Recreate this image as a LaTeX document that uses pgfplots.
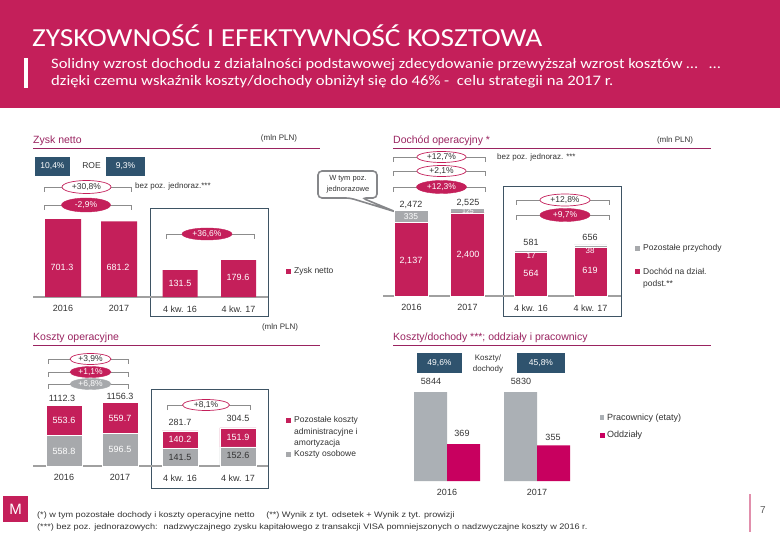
\documentclass[border=0pt]{standalone}
\usepackage{fontspec}
\setmainfont{Liberation Sans}
\newfontfamily\tfont{Carlito}
\usepackage{pgfplots}
\pgfplotsset{compat=1.18}
\usetikzlibrary{shapes.geometric}

\definecolor{mag}{HTML}{C41F5A}
\definecolor{magB}{HTML}{C8005F}
\definecolor{grayB}{HTML}{A7A9AC}
\definecolor{grayP}{HTML}{ABB0B5}
\definecolor{slate}{HTML}{2F536E}
\definecolor{ttl}{HTML}{9A2360}
\definecolor{boxc}{HTML}{3E5464}
\definecolor{brk}{HTML}{8C8C8C}
\definecolor{txt}{HTML}{333333}
\definecolor{basel}{HTML}{A0A0A0}

\newcommand{\fs}[1]{\fontsize{#1}{#1}\selectfont}
\newcommand{\brk}[3]{\draw[brk, line width=0.7pt] (#1,{#3+5}) -- (#1,#3) -- (#2,#3) -- (#2,{#3+5});}

\tikzset{
  ew/.style={ellipse, draw=mag, line width=0.7pt, fill=white, text=txt, inner sep=0pt, font=\fs{8.5}},
  em/.style={ellipse, draw=mag, fill=mag, text=white, inner sep=0pt, font=\fs{8.5}},
  eg/.style={ellipse, draw=grayB, fill=grayB, text=white, inner sep=0pt, font=\fs{8.5}},
  vl/.style={inner sep=0pt, font=\fs{9}, text=txt},
  vw/.style={inner sep=0pt, font=\fs{9}, text=white},
  lg/.style={anchor=west, inner sep=0pt, font=\fs{8.5}, text=txt},
}

\pgfplotsset{barax/.style={scale only axis, anchor=south west, height=90pt,
  ymin=0, xmin=-0.5, xmax=1.5, xtick={0,1}, ytick=\empty,
  axis line style={draw=none}, major tick length=0pt, clip=false,
  xticklabel style={font=\fs{9}, text=txt, yshift=-5pt}}}

\begin{document}
\begin{tikzpicture}
\begin{scope}[x=1pt,y=-1pt]
\path[use as bounding box, fill=white] (0,0) rectangle (780,540);
% header
\fill[mag] (0,0) rectangle (780,108);
\node[anchor=base west, inner sep=0pt, white, font=\tfont\fs{26}] at (32,47) {\scalebox{1.13}[1]{ZYSKOWNOŚĆ I EFEKTYWNOŚĆ KOSZTOWA}};
\fill[white] (24,58) rectangle (28,88);
\node[anchor=base west, inner sep=0pt, white, font=\tfont\fs{14.5}] at (51,69) {\scalebox{1.14}[1]{Solidny wzrost dochodu z działalności podstawowej zdecydowanie przewyższał wzrost kosztów …\hspace{10pt}…}};
\node[anchor=base west, inner sep=0pt, white, font=\tfont\fs{14.5}] at (51,86) {\scalebox{1.15}[1]{dzięki czemu wskaźnik koszty/dochody obniżył się do 46\% - \ celu strategii na 2017 r.}};

% panel titles
\node[anchor=base west, inner sep=0pt, text=ttl, font=\fs{10.5}] at (33,144) {Zysk netto};
\draw[ttl, line width=0.6pt] (33,148) -- (320,148);
\node[anchor=base, inner sep=0pt, text=txt, font=\fs{8}] at (279,141) {(mln PLN)};
\node[anchor=base west, inner sep=0pt, text=ttl, font=\fs{10.5}] at (393,144) {Dochód operacyjny *};
\draw[ttl, line width=0.6pt] (393,148) -- (711,148);
\node[anchor=base, inner sep=0pt, text=txt, font=\fs{8}] at (675,143) {(mln PLN)};
\node[anchor=base west, inner sep=0pt, text=ttl, font=\fs{10.5}] at (33,341) {Koszty operacyjne};
\draw[ttl, line width=0.6pt] (33,345) -- (320,345);
\node[anchor=base, inner sep=0pt, text=txt, font=\fs{8}] at (280,330) {(mln PLN)};
\node[anchor=base west, inner sep=0pt, text=ttl, font=\fs{10.5}] at (393,341) {Koszty/dochody ***; oddziały i pracownicy};
\draw[ttl, line width=0.6pt] (393,345) -- (711,345);

% Q4 boxes
\draw[boxc, line width=0.9pt] (150,208) rectangle (268,316);
\draw[boxc, line width=0.9pt] (503,186) rectangle (621,316);
\draw[boxc, line width=0.9pt] (151,389) rectangle (268,488);

% baselines
\draw[basel, line width=1.4pt] (33,297) -- (268,297);
\draw[basel, line width=1.4pt] (383,296) -- (621,296);
\draw[basel, line width=1.4pt] (33,466) -- (268,466);

% ROE boxes
\fill[slate] (35,157) rectangle (70,176);
\node[inner sep=0pt, white, font=\fs{8.5}] at (52.5,166.5) {10,4\%};
\node[inner sep=0pt, text=txt, font=\fs{8.5}] at (91.5,166) {ROE};
\fill[slate] (106,157) rectangle (145,176);
\node[inner sep=0pt, white, font=\fs{8.5}] at (125.5,166.5) {9,3\%};

% Koszty/dochody boxes
\fill[slate] (417,353) rectangle (462,373);
\node[inner sep=0pt, white, font=\fs{8.5}] at (439.5,363) {49,6\%};
\fill[slate] (517,353) rectangle (565,373);
\node[inner sep=0pt, white, font=\fs{8.5}] at (541,363) {45,8\%};
\node[inner sep=0pt, text=txt, font=\fs{8}] at (488,358) {Koszty/};
\node[inner sep=0pt, text=txt, font=\fs{8}] at (488,369) {dochody};

% brackets: Zysk netto
\brk{44}{131}{187}
\node[ew, minimum width=49pt, minimum height=13pt] at (86.5,187) {+30,8\%};
\node[anchor=west, inner sep=0pt, text=txt, font=\fs{8}] at (135,186) {bez poz. jednoraz.***};
\brk{44}{131}{205}
\node[em, minimum width=49pt, minimum height=14pt] at (86,205) {-2,9\%};
\brk{166}{254}{234}
\node[em, minimum width=50pt, minimum height=12pt] at (207,234) {+36,6\%};

% brackets: Dochod
\brk{393}{485}{157}
\node[ew, minimum width=49pt, minimum height=11pt] at (441.5,157) {+12,7\%};
\node[anchor=west, inner sep=0pt, text=txt, font=\fs{8}] at (497,157) {bez poz. jednoraz. ***};
\brk{393}{485}{171}
\node[ew, minimum width=49pt, minimum height=11pt] at (441.5,171) {+2,1\%};
\brk{393}{485}{187}
\node[em, minimum width=50pt, minimum height=13pt] at (441.5,187) {+12,3\%};
\brk{516}{609}{200}
\node[ew, minimum width=50pt, minimum height=12pt] at (565,200) {+12,8\%};
\brk{516}{609}{215}
\node[em, minimum width=50pt, minimum height=13pt] at (565,215) {+9,7\%};

% brackets: Koszty
\brk{48}{128}{359}
\node[ew, minimum width=41pt, minimum height=11pt] at (90.5,359) {+3,9\%};
\brk{48}{128}{372}
\node[em, minimum width=41pt, minimum height=11pt] at (90.5,372) {+1,1\%};
\brk{48}{128}{384}
\node[eg, minimum width=41pt, minimum height=11pt] at (90.5,384) {+6,8\%};
\brk{167}{250}{405}
\node[ew, minimum width=47pt, minimum height=11pt] at (206,405) {+8,1\%};

% callout
\draw[grayB!80!black, line width=1.6pt, fill=white, rounded corners=4pt]
  (318,171) -- (377,171) -- (377,198) -- (362,198) -- (396,212) -- (350,198) -- (318,198) -- cycle;
\node[inner sep=0pt, text=txt, font=\fs{7.5}] at (348,179) {W tym poz.};
\node[inner sep=0pt, text=txt, font=\fs{7.5}] at (348,190) {jednorazowe};
\end{scope}

% ===== Zysk netto =====
\begin{axis}[barax, ybar, at={(35pt,-297pt)}, width=112pt, ymax=811, bar width=36pt, xticklabels={2016,2017}]
\addplot[fill=mag, draw=none] coordinates {(0,701.3) (1,681.2)};
\end{axis}
\begin{axis}[barax, ybar, at={(150.75pt,-297pt)}, width=117pt, ymax=439, bar width=35pt, xticklabels={4 kw. 16,4 kw. 17}]
\addplot[fill=mag, draw=none] coordinates {(0,131.5) (1,179.6)};
\end{axis}

% ===== Dochod operacyjny =====
\begin{axis}[barax, ybar stacked, at={(383.5pt,-296pt)}, width=112pt, ymax=2601, bar width=34pt, xticklabels={2016,2017}]
\addplot[fill=mag, draw=white, line width=0.5pt] coordinates {(0,2137) (1,2400)};
\addplot[fill=grayB, draw=white, line width=0.5pt] coordinates {(0,335) (1,125)};
\end{axis}
\begin{axis}[barax, ybar stacked, at={(501.25pt,-296pt)}, width=119pt, ymax=1154, bar width=33pt, xticklabels={4 kw. 16,4 kw. 17}]
\addplot[fill=mag, draw=white, line width=0.5pt] coordinates {(0,564) (1,619)};
\addplot[fill=grayB, draw=white, line width=0.5pt] coordinates {(0,17) (1,38)};
\end{axis}

% ===== Koszty operacyjne =====
\begin{axis}[barax, ybar stacked, at={(36pt,-466pt)}, width=112pt, ymax=1642, bar width=36pt, xticklabels={2016,2017}]
\addplot[fill=grayB, draw=white, line width=0.5pt] coordinates {(0,558.8) (1,596.5)};
\addplot[fill=mag, draw=white, line width=0.5pt] coordinates {(0,553.6) (1,559.7)};
\end{axis}
\begin{axis}[barax, ybar stacked, at={(151pt,-466pt)}, width=116pt, ymax=720, bar width=36pt, xticklabels={4 kw. 16,4 kw. 17}]
\addplot[fill=grayB, draw=white, line width=0.5pt] coordinates {(0,141.5) (1,152.6)};
\addplot[fill=mag, draw=white, line width=0.5pt] coordinates {(0,140.2) (1,151.9)};
\end{axis}

% ===== Koszty/dochody: pracownicy & oddzialy =====
\begin{axis}[barax, ybar, at={(402pt,-481pt)}, width=180pt, ymax=5910, xticklabels={2016,2017}]
\addplot[fill=grayP, draw=none, bar width=33pt, bar shift=-16.5pt] coordinates {(0,5844) (1,5830)};
\end{axis}
\begin{axis}[barax, ybar, at={(402pt,-481pt)}, width=180pt, ymax=900, xtick=\empty]
\addplot[fill=magB, draw=none, bar width=33pt, bar shift=16.5pt] coordinates {(0,369) (1,355)};
\end{axis}

\begin{scope}[x=1pt,y=-1pt]
% Zysk labels
\node[vw] at (62,267) {701.3};
\node[vw] at (118,267) {681.2};
\node[vw] at (180,283) {131.5};
\node[vw] at (238,277) {179.6};
\fill[mag] (286,269) rectangle (291,274);
\node[lg] at (294,271.5) {Zysk netto};
% Dochod labels
\node[vl] at (411,205) {2,472};
\node[vl] at (468,203) {2,525};
\node[vw, font=\fs{8.5}] at (411,217) {335};
\node[vw, font=\fs{7}] at (468,211) {125};
\node[vw] at (411,261) {2,137};
\node[vw] at (468,255) {2,400};
\node[vl] at (531,242) {581};
\node[vw, font=\fs{8}] at (531,256) {17};
\node[vw] at (531,273) {564};
\node[vl] at (590,237) {656};
\node[vw, font=\fs{8}] at (590,251) {38};
\node[vw] at (590,270) {619};
\fill[grayB] (635,246) rectangle (640,251);
\node[lg] at (643,248.5) {Pozostałe przychody};
\fill[mag] (635,269) rectangle (640,274);
\node[lg] at (643,271.5) {Dochód na dział.};
\node[lg] at (643,284) {podst.**};
% Koszty labels
\node[vl] at (62,398) {1112.3};
\node[vl] at (120,396) {1156.3};
\node[vw] at (64,420) {553.6};
\node[vw] at (120,418) {559.7};
\node[vw] at (64,451) {558.8};
\node[vw] at (120,449) {596.5};
\node[vl] at (180,422) {281.7};
\node[vl] at (238,418) {304.5};
\node[vw] at (180,439) {140.2};
\node[vw] at (238,437) {151.9};
\node[vl] at (180,457) {141.5};
\node[vl] at (238,455) {152.6};
\fill[mag] (286,418) rectangle (291,423);
\node[lg] at (294,420.5) {Pozostałe koszty};
\node[lg] at (294,432) {administracyjne i};
\node[lg] at (294,443.5) {amortyzacja};
\fill[grayB] (286,452) rectangle (291,457);
\node[lg] at (294,454.5) {Koszty osobowe};
% Pracownicy / oddzialy labels
\node[vl] at (431,381) {5844};
\node[vl] at (521,381) {5830};
\node[vl] at (462,433) {369};
\node[vl] at (553,437) {355};
\fill[grayP] (600,415) rectangle (604,420);
\node[lg, font=\fs{9}] at (607,418) {Pracownicy (etaty)};
\fill[magB] (600,433) rectangle (605,438);
\node[lg, font=\fs{9}] at (607,435.5) {Oddziały};

% footer
\fill[mag] (3,496) rectangle (28,522);
\node[inner sep=0pt, white, font=\fs{15}] at (15.5,509) {M};
\node[anchor=base west, inner sep=0pt, text=txt, font=\fs{8}] at (37,517) {\scalebox{1.14}[1]{(*) w tym pozostałe dochody i koszty operacyjne netto \quad (**) Wynik z tyt. odsetek + Wynik z tyt. prowizji}};
\node[anchor=base west, inner sep=0pt, text=txt, font=\fs{8}] at (37,529) {\scalebox{1.14}[1]{(***) bez poz. jednorazowych: \ nadzwyczajnego zysku kapitałowego z transakcji VISA pomniejszonych o nadzwyczajne koszty w 2016 r.}};
\draw[mag!50, line width=1.2pt] (750,494) -- (750,532);
\node[inner sep=0pt, text=txt!80, font=\fs{10}] at (763,510) {7};
\end{scope}
\end{tikzpicture}
\end{document}
